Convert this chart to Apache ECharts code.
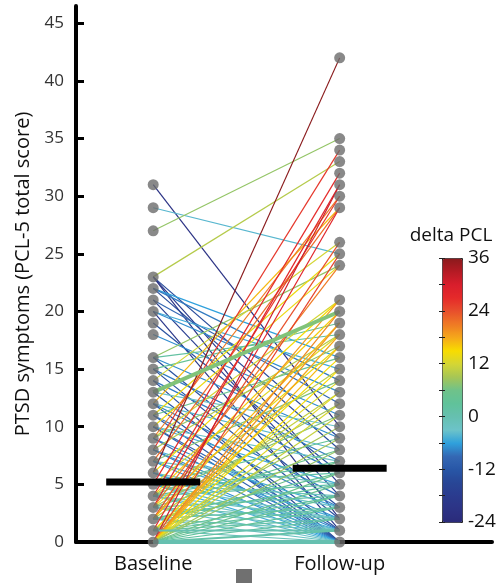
<!DOCTYPE html>
<html><head><meta charset="utf-8">
<script src="https://cdn.jsdelivr.net/npm/echarts@6/dist/echarts.min.js"></script>
<style>html,body{margin:0;padding:0;background:#fff}#c{width:500px;height:583px}</style>
</head><body><div id="c"></div>
<script>
// ---- data ----
const categories = ['Baseline', 'Follow-up'];
const yTicks = [0, 5, 10, 15, 20, 25, 30, 35, 40, 45];
const deltaRange = [-24, 36];
const colorbarTitle = 'delta PCL';
const groupMeans = [5.2, 6.4];
const baselineScores = [
  31,29,27,23,23,23,23,22,22,22,21,21,20,20,20,19,18,
  16,16,16,16, 15,15,15, 14,14,14, 13,13,13,13,13,13,
  12,12,12,12, 11,11,11,11, 10,10,10,10,10, 9,9,9,9,9,
  8,8,8,8,8, 7,7,7,7,7, 6,6,6,6,6,
  5,5,5,5,5,5,5,5, 4,4,4,4,4,4,4,4,4, 3,3,3,3,3,3,3,3,3,
  2,2,2,2,2,2,2,2,2, 1,1,1,1,1,1,1,1,1,1,1,
  0,0,0,0,0,0,0,0,0,0,0,0,0,0,0,0,0,0,0,0,0,0,0
];
const followUpScores = [
  10,25,35,33,9,5,2,16,14,8,12,4,15,13,1,6,11,
  24,18,9,3, 19,7,2, 26,6,0, 20,20,20,20,10,1,
  29,8,4,0, 25,16,3,0, 24,7,5,1,0, 30,21,17,2,0,
  34,18,3,1,0, 29,14,5,2,0, 42,21,3,1,0,
  32,18,9,6,4,2,1,0, 30,20,15,11,7,5,2,1,0, 31,24,17,12,8,4,2,1,0,
  26,21,19,13,6,5,3,1,0, 29,16,14,10,7,4,3,2,1,1,0,
  31,25,20,19,18,17,15,13,12,11,9,8,6,5,4,3,2,1,1,0,0,0,0
];

// ---- build marks ----
const pairCount = {};
baselineScores.forEach((b, i) => {
  const k = b + '|' + followUpScores[i];
  pairCount[k] = (pairCount[k] || 0) + 1;
});
const lineData = Object.keys(pairCount).map(k => {
  const [b, f] = k.split('|').map(Number);
  return [b, f, f - b, pairCount[k]];
}).sort((a, b) => a[3] - b[3]);
const uniq = arr => Array.from(new Set(arr));
const pointData = [].concat(
  uniq(baselineScores).map(v => [1, v]),
  uniq(followUpScores).map(v => [2, v])
);
const meanData = groupMeans.map((m, i) => [i + 1, m]);

const palette = ['#2b2a7a','#2c3385','#2b3b8e','#284696','#2856a6','#3468b4','#2fa0dc','#6cc3c9','#66c0b0','#60c29a','#6fc28a','#a6c656','#d4d634','#f8dc00','#f5a81a','#ef7a24','#e8502c','#e52a2a','#d91e2c','#b51a24','#8a1a1c'];
const FONT = 'Open Sans';

const chart = echarts.init(document.getElementById('c'), null, {renderer: 'canvas'});
chart.setOption({
  animation: false,
  backgroundColor: '#fff',
  textStyle: {fontFamily: FONT},
  grid: [
    {left: 76, right: 8, top: 6, bottom: 41, outerBoundsMode: 'none', containLabel: false},
    {left: 442, top: 258, width: 20, height: 264, outerBoundsMode: 'none', containLabel: false}
  ],
  xAxis: [
    {type: 'value', gridIndex: 0, min: 0.586, max: 2.817,
     axisLine: {show: true, onZero: false, lineStyle: {color: '#000', width: 4}},
     axisTick: {show: false}, splitLine: {show: false},
     axisLabel: {customValues: [1, 2], formatter: v => categories[Math.round(v) - 1] || '',
       fontSize: 20, color: '#111', margin: 12, fontFamily: FONT}},
    {type: 'value', gridIndex: 1, show: false, min: 0, max: 1}
  ],
  yAxis: [
    {type: 'value', gridIndex: 0, min: 0, max: 46.5,
     name: 'PTSD symptoms (PCL-5 total score)', nameLocation: 'middle', nameGap: 42,
     nameTextStyle: {fontSize: 20, color: '#111', fontFamily: FONT},
     axisLine: {show: true, lineStyle: {color: '#000', width: 4}},
     axisTick: {show: true, inside: true, length: 8, customValues: yTicks, lineStyle: {color: '#000', width: 3}},
     axisLabel: {customValues: yTicks, fontSize: 17, color: '#333', margin: 12, fontFamily: FONT},
     splitLine: {show: false}},
    {type: 'value', gridIndex: 1, position: 'right', min: deltaRange[0], max: deltaRange[1], interval: 6, z: 10,
     axisLine: {show: false},
     axisTick: {show: true, inside: true, length: 3, lineStyle: {color: '#222', width: 1}},
     axisLabel: {fontSize: 19, color: '#111', margin: 6, fontFamily: FONT, formatter: v => (v % 12 === 0 ? String(v) : '')},
     splitLine: {show: false}},
    {type: 'value', gridIndex: 1, position: 'left', min: deltaRange[0], max: deltaRange[1], interval: 6, z: 10,
     axisLine: {show: false},
     axisTick: {show: true, inside: true, length: 3, lineStyle: {color: '#222', width: 1}},
     axisLabel: {show: false}, splitLine: {show: false}}
  ],
  visualMap: {
    type: 'continuous', min: deltaRange[0], max: deltaRange[1], dimension: 2, seriesIndex: 0,
    orient: 'vertical', left: 442, top: 258, itemWidth: 20, itemHeight: 264,
    padding: 0, calculable: false, hoverLink: false, realtime: false,
    borderColor: '#222', borderWidth: 1,
    inRange: {color: palette}
  },
  graphic: [
    {type: 'rect', left: 236, top: 569, shape: {width: 16, height: 14}, style: {fill: '#707070'}},
    {type: 'text', x: 451, y: 236, style: {text: colorbarTitle, textAlign: 'center', textVerticalAlign: 'middle',
      fontSize: 19, fontFamily: FONT, fill: '#111'}}
  ],
  series: [
    {type: 'custom', xAxisIndex: 0, yAxisIndex: 0, clip: false, z: 2, data: lineData,
     renderItem: (params, api) => {
       const p1 = api.coord([1, api.value(0)]);
       const p2 = api.coord([2, api.value(1)]);
       return {type: 'line', shape: {x1: p1[0], y1: p1[1], x2: p2[0], y2: p2[1]},
         style: {stroke: api.visual('color'), lineWidth: 1.2 + (api.value(3) - 1) * 0.9}};
     }},
    {type: 'scatter', xAxisIndex: 0, yAxisIndex: 0, clip: false, z: 3, symbolSize: 11,
     itemStyle: {color: '#6b6b6b'}, data: pointData},
    {type: 'custom', xAxisIndex: 0, yAxisIndex: 0, clip: false, z: 4, data: meanData,
     renderItem: (params, api) => {
       const c = api.coord([api.value(0), api.value(1)]);
       return {type: 'rect', shape: {x: c[0] - 47, y: c[1] - 3.5, width: 94, height: 7}, style: {fill: '#000'}};
     }}
  ]
});
</script>
</body></html>
